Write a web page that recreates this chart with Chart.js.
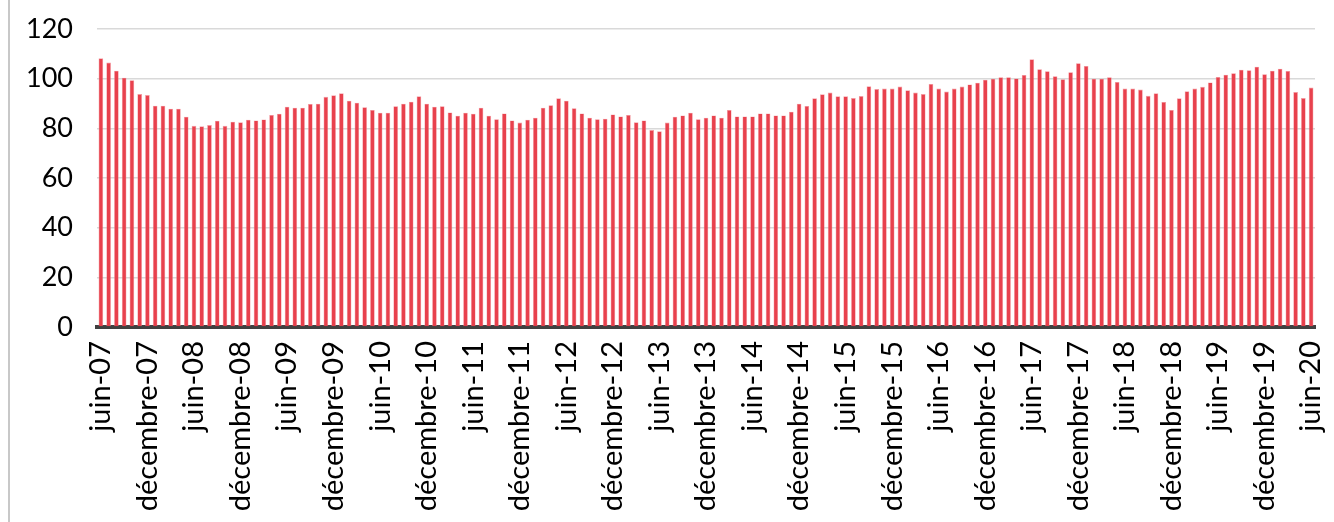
<!DOCTYPE html>
<html>
<head>
<meta charset="utf-8">
<script src="https://cdn.jsdelivr.net/npm/chart.js@4/dist/chart.umd.min.js"></script>
<style>
  html, body { margin: 0; padding: 0; background: #ffffff; overflow: hidden; }
  #wrap { position: relative; width: 1334px; height: 522px; }
  #frame { position: absolute; left: 8px; top: 0; width: 0; height: 522px; border-left: 2px solid #c8c8c8; }
  canvas { position: absolute; left: 0; top: 0; }
</style>
</head>
<body>
<div id="wrap">
  <canvas id="chart" width="1334" height="522"></canvas>
  <div id="frame"></div>
</div>
<script>
// Monthly index, June 2007 to June 2020
const startYear = 2007;
const startMonth = 5; // June (0-based)
const monthNames = ['janvier', 'février', 'mars', 'avril', 'mai', 'juin',
  'juillet', 'août', 'septembre', 'octobre', 'novembre', 'décembre'];

const values = [
  108.2, 106.5, 103.2, 100.4, 99.4, 93.8, 93.4, 89.1, 89.1, 87.9, 87.9, 84.7, 81.0,
  80.8, 81.3, 83.1, 81.0, 82.7, 82.4, 83.5, 83.2, 83.6, 85.4, 85.9, 88.7, 88.3,
  88.3, 89.8, 89.9, 92.7, 93.3, 94.1, 91.1, 90.3, 88.5, 87.4, 86.3, 86.3, 88.9,
  89.9, 90.7, 92.9, 89.9, 88.7, 88.9, 86.4, 85.1, 86.3, 85.9, 88.3, 85.1, 83.7,
  86.0, 83.2, 82.3, 83.5, 84.3, 88.3, 89.3, 92.1, 91.1, 88.1, 86.0, 84.3, 83.7,
  83.9, 85.6, 84.8, 85.4, 82.4, 83.2, 79.3, 78.8, 82.3, 84.7, 85.2, 86.3, 83.7,
  84.3, 85.2, 84.3, 87.4, 84.8, 84.8, 84.8, 86.0, 86.0, 85.2, 85.2, 86.7, 89.9,
  89.0, 92.1, 93.7, 94.4, 92.9, 92.9, 92.2, 93.0, 96.9, 95.8, 96.0, 96.0, 96.8,
  95.3, 94.4, 93.8, 97.9, 96.0, 94.8, 96.0, 96.8, 97.7, 98.4, 99.6, 100.0, 100.6,
  100.6, 100.1, 101.5, 107.8, 103.8, 103.0, 101.0, 99.8, 102.6, 106.2, 105.1, 100.0, 100.0,
  100.6, 98.7, 96.0, 96.0, 95.6, 93.1, 94.1, 90.6, 87.4, 92.1, 94.9, 96.0, 96.7,
  98.5, 100.7, 101.6, 102.2, 103.6, 103.4, 104.8, 101.8, 103.2, 104.0, 103.1, 94.6, 92.2, 96.4
];

const yTicks = [0, 20, 40, 60, 80, 100, 120];

// One category per month, labelled "mois-aa"
const categories = values.map((_, i) => {
  const m = (startMonth + i) % 12;
  const y = startYear + Math.floor((startMonth + i) / 12);
  return monthNames[m] + '-' + String(y % 100).padStart(2, '0');
});

// Only June and December are written on the axis
const shownMonths = ['juin', 'décembre'];

const fontFamily = 'Lato, "Noto Sans", sans-serif';

new Chart(document.getElementById('chart'), {
  type: 'bar',
  data: {
    labels: categories,
    datasets: [{
      data: values,
      backgroundColor: '#e8414d',
      borderColor: 'rgba(242,140,148,0.85)',
      borderWidth: { left: 0.6, right: 0.6, top: 0.6, bottom: 0 },
      borderSkipped: 'bottom',
      barPercentage: 0.6,
      categoryPercentage: 1.0
    }]
  },
  options: {
    responsive: false,
    animation: false,
    devicePixelRatio: 1,
    layout: { padding: { top: 29, right: 19, left: 0, bottom: 0 } },
    plugins: {
      legend: { display: false },
      tooltip: { enabled: false }
    },
    scales: {
      x: {
        offset: true,
        afterFit: (scale) => {
          scale.height = 195;
          scale.paddingLeft = 0;
          scale.paddingRight = 0;
        },
        grid: { display: false, drawTicks: false },
        border: { display: true, color: '#404040', width: 4 },
        ticks: {
          autoSkip: false,
          minRotation: 90,
          maxRotation: 90,
          padding: 14,
          color: '#000000',
          font: { family: fontFamily, size: 29 },
          callback: function (value, index) {
            const label = this.getLabelForValue(value);
            return shownMonths.includes(label.split('-')[0]) ? label : '';
          }
        }
      },
      y: {
        min: 0,
        max: 120,
        afterFit: (scale) => {
          scale.width = 97;
          scale.paddingTop = 0;
          scale.paddingBottom = 0;
        },
        afterBuildTicks: (scale) => { scale.ticks = yTicks.map(v => ({ value: v })); },
        grid: { color: '#d9d9d9', lineWidth: 1.5, drawTicks: false },
        border: { display: false },
        ticks: {
          padding: 24,
          color: '#000000',
          font: { family: fontFamily, size: 27 }
        }
      }
    }
  }
});
</script>
</body>
</html>
